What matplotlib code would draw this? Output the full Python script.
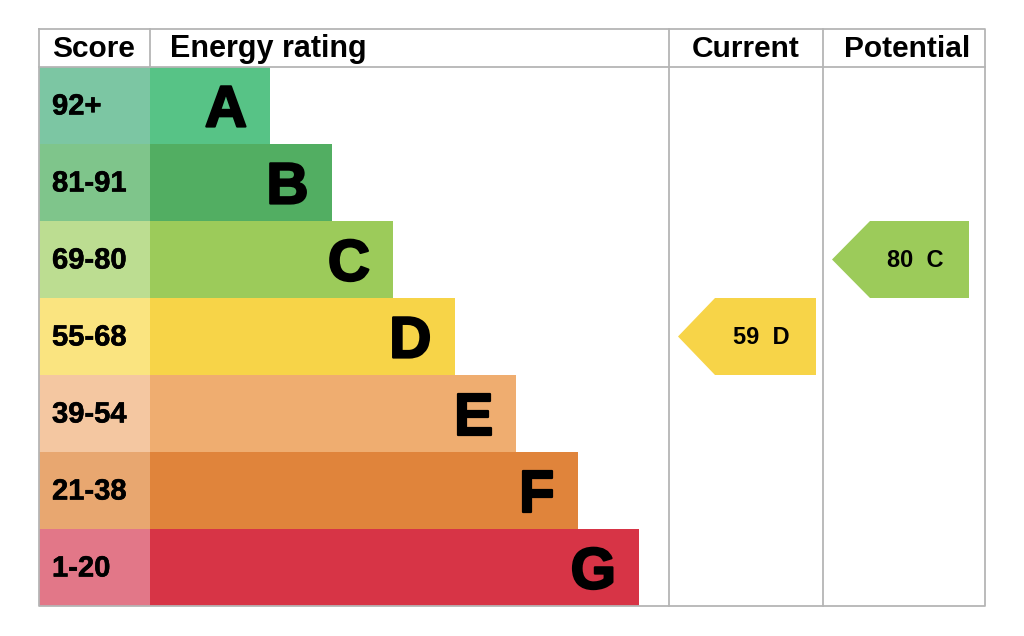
import matplotlib.pyplot as plt
from matplotlib.patches import Rectangle, Polygon
import matplotlib.patheffects as pe

# EPC bands
bands = ['A', 'B', 'C', 'D', 'E', 'F', 'G']
score_ranges = ['92+', '81-91', '69-80', '55-68', '39-54', '21-38', '1-20']
band_lows = [92, 81, 69, 55, 39, 21, 1]
bar_colors = ['#57c386', '#52ae62', '#9ccb5a', '#f7d448', '#efad70', '#e0843b', '#d73446']
score_colors = ['#7cc6a3', '#7fc58b', '#bcdd91', '#fae480', '#f4c7a1', '#e8a770', '#e27788']

current = 59
potential = 80

plt.rcParams['font.family'] = ['Liberation Sans', 'DejaVu Sans']

fig = plt.figure(figsize=(10.24, 6.36), dpi=100)
ax = fig.add_axes([0, 0, 1, 1])
ax.set_xlim(0, 1024)
ax.set_ylim(636, 0)
ax.axis('off')

left, right = 39, 985
top, head = 29, 67
row_h = 77
score_r = 150
cur_l, pot_l = 669, 823
bottom = head + row_h * len(bands)
grey = '#b5b5b5'
bold = [pe.withStroke(linewidth=1.6, foreground='black')]
semi = [pe.withStroke(linewidth=0.4, foreground='black')]


def band_of(val):
    for i, lo in enumerate(band_lows):
        if val >= lo:
            return i
    return len(bands) - 1


for i, (b, s) in enumerate(zip(bands, score_ranges)):
    y0 = head + i * row_h
    ax.add_patch(Rectangle((left, y0), score_r - left, row_h, color=score_colors[i], lw=0))
    bar_end = score_r + 120 + 61.5 * i
    ax.add_patch(Rectangle((score_r, y0), bar_end - score_r, row_h, color=bar_colors[i], lw=0))
    ax.text(52, y0 + row_h / 2 + 1, s, fontsize=21, fontweight='bold', ha='left', va='center',
            path_effects=semi)
    ax.text(bar_end - 23, y0 + row_h / 2 + 6, b, fontsize=42, fontweight='bold',
            ha='right', va='center', path_effects=bold)

# table lines
lw = 1.3
ax.plot([left, right, right, left, left], [top, top, bottom, bottom, top], color=grey, lw=lw)
ax.plot([left, right], [head, head], color=grey, lw=lw)
ax.plot([score_r, score_r], [top, head], color=grey, lw=lw)
for x in (cur_l, pot_l):
    ax.plot([x, x], [top, bottom], color=grey, lw=lw)

# headers
hy = 49
ax.text(94, hy, 'Score', fontsize=21.5, fontweight='bold', ha='center', va='center')
ax.text(170, hy, 'Energy rating', fontsize=22, fontweight='bold', ha='left', va='center')
ax.text((cur_l + pot_l) / 2, hy, 'Current', fontsize=21.5, fontweight='bold', ha='center', va='center')
ax.text((pot_l + right) / 2 + 3, hy, 'Potential', fontsize=21.5, fontweight='bold', ha='center', va='center')


def arrow(val, x_tip, x_body, x_right):
    i = band_of(val)
    y0 = head + i * row_h
    y1 = y0 + row_h
    ym = (y0 + y1) / 2
    ax.add_patch(Polygon([(x_tip, ym), (x_body, y0), (x_right, y0), (x_right, y1), (x_body, y1)],
                         closed=True, color=bar_colors[i], lw=0))
    ax.text((x_body + x_right) / 2 - 4, ym + 1, f'{val}  {bands[i]}', fontsize=17,
            fontweight='bold', ha='center', va='center')


arrow(current, 678, 715, 816)
arrow(potential, 832, 870, 969)

fig.savefig('out.png', dpi=100)
